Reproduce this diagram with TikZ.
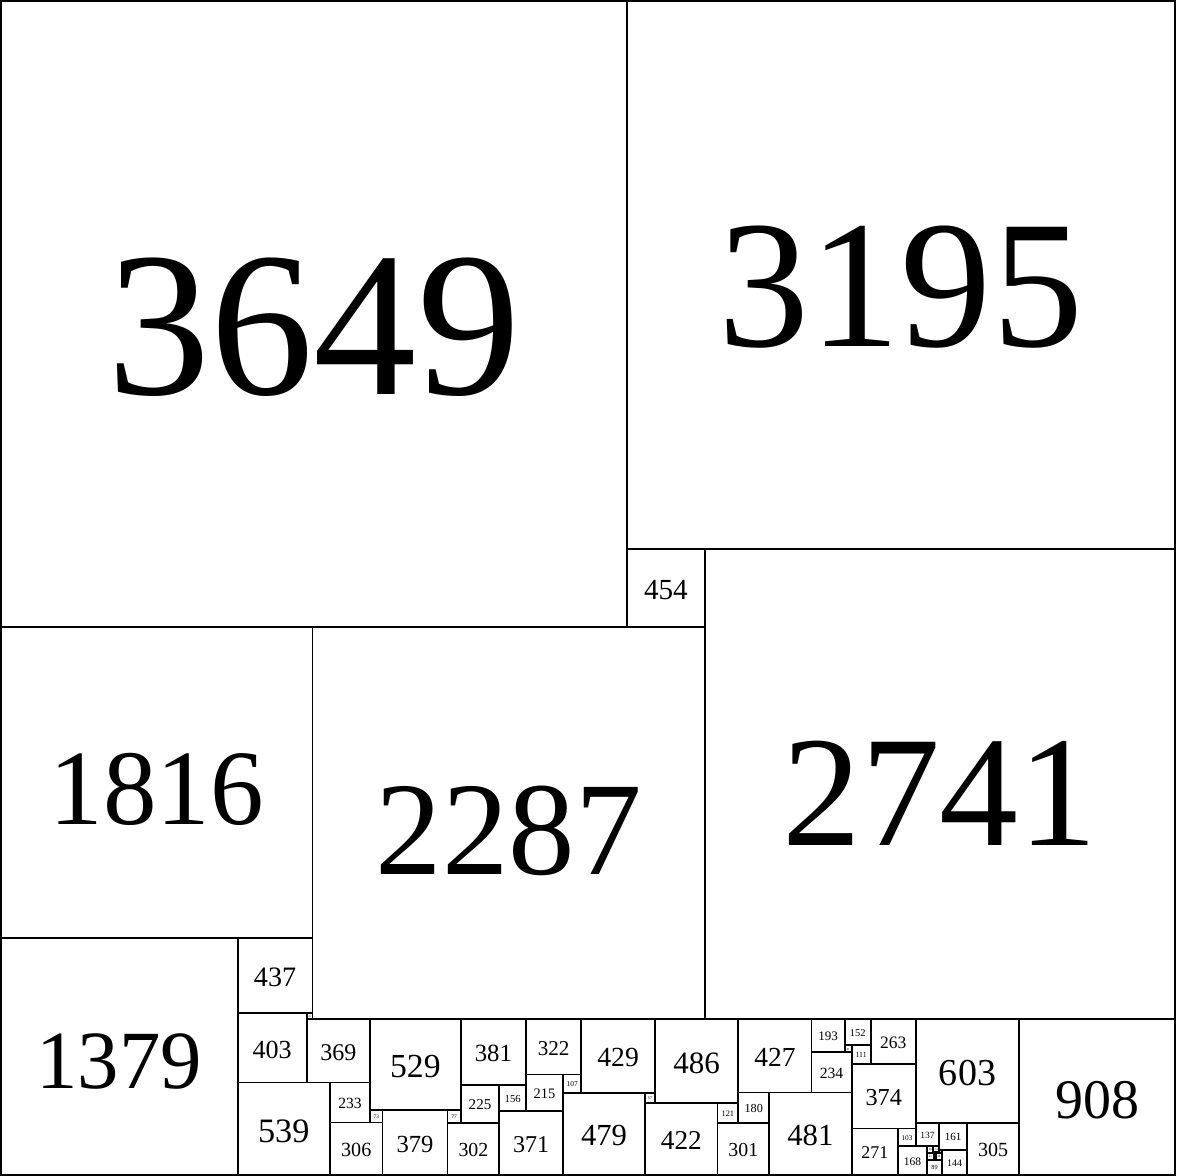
\documentclass[tikz,border=0pt]{standalone}
\usepackage{fontspec}
\setmainfont{Liberation Serif}
\tikzset{
  sqbox/.style={draw, line width=1.6pt, inner sep=0pt, outer sep=0pt, rectangle, text depth=0pt},
  sqline/.style={draw, line width=1.6pt}
}
\newcommand\SQ[5]{%
  \pgfmathsetmacro\sqcx{#2+#4/2}%
  \pgfmathsetmacro\sqcy{#3+#4/2}%
  \pgfmathsetmacro\sqfs{0.07734*exp(0.939*ln(#4))}%
  \pgfmathsetmacro\sqth{\sqfs*0.78}%
  \node[sqbox, minimum size=#4*0.05mm, text height=\sqth pt, font=\fontsize{\sqfs pt}{\sqfs pt}\selectfont] (#1) at (\sqcx,\sqcy) {#5};}
\begin{document}
\begin{tikzpicture}[x=0.05mm, y=-0.05mm]
\useasboundingbox (-6,-6) rectangle (6850,6850);
\SQ{q3649}{0}{0}{3649}{3649}
\SQ{q3195}{3649}{0}{3195}{3195}
\SQ{q454}{3649}{3195}{454}{454}
\SQ{q2741}{4103}{3195}{2741}{2741}
\SQ{q1816}{0}{3649}{1816}{1816}
\SQ{q2287}{1816}{3649}{2287}{2287}
\SQ{q1379}{0}{5465}{1379}{1379}
\SQ{q437}{1379}{5465}{437}{437}
\SQ{q34}{1782}{5902}{34}{34}
\SQ{q403}{1379}{5902}{403}{403}
\SQ{q369}{1782}{5936}{369}{369}
\SQ{q539}{1379}{6305}{539}{539}
\SQ{q529}{2151}{5936}{529}{529}
\SQ{q233}{1918}{6305}{233}{233}
\SQ{q306}{1918}{6538}{306}{306}
\SQ{q73}{2151}{6465}{73}{73}
\SQ{q379}{2224}{6465}{379}{379}
\SQ{q77}{2603}{6465}{77}{77}
\SQ{q302}{2603}{6542}{302}{302}
\SQ{q381}{2680}{5936}{381}{381}
\SQ{q225}{2680}{6317}{225}{225}
\SQ{q156}{2905}{6317}{156}{156}
\SQ{q322}{3061}{5936}{322}{322}
\SQ{q215}{3061}{6258}{215}{215}
\SQ{q371}{2905}{6473}{371}{371}
\SQ{q107}{3276}{6258}{107}{107}
\SQ{q429}{3383}{5936}{429}{429}
\SQ{q479}{3276}{6365}{479}{479}
\SQ{q57}{3755}{6365}{57}{57}
\SQ{q486}{3812}{5936}{486}{486}
\SQ{q422}{3755}{6422}{422}{422}
\SQ{q427}{4298}{5936}{427}{427}
\SQ{q121}{4177}{6422}{121}{121}
\SQ{q180}{4298}{6363}{180}{180}
\SQ{q301}{4177}{6543}{301}{301}
\SQ{q481}{4478}{6363}{481}{481}
\SQ{q193}{4725}{5936}{193}{193}
\SQ{q234}{4725}{6129}{234}{234}
\SQ{q152}{4918}{5936}{152}{152}
\SQ{q41}{4918}{6088}{41}{41}
\SQ{q111}{4959}{6088}{111}{111}
\SQ{q263}{5070}{5936}{263}{263}
\SQ{q603}{5333}{5936}{603}{603}
\SQ{q374}{4959}{6199}{374}{374}
\SQ{q271}{4959}{6573}{271}{271}
\SQ{q103}{5230}{6573}{103}{103}
\SQ{q137}{5333}{6539}{137}{137}
\SQ{q161}{5470}{6539}{161}{161}
\SQ{q305}{5631}{6539}{305}{305}
\SQ{q168}{5230}{6676}{168}{168}
\SQ{q144}{5487}{6700}{144}{144}
\SQ{q89}{5398}{6755}{89}{89}
\SQ{q908}{5936}{5936}{908}{908}
% tiny cluster
\SQ{c1}{5398}{6676}{37.75}{38}
\SQ{c2}{5435.75}{6676}{34.25}{34}
\SQ{c3}{5435.75}{6710.25}{3.5}{}
\SQ{c4}{5398}{6713.75}{41.25}{41}
\SQ{c5}{5470}{6700}{17}{17}
\SQ{c6}{5449}{6717}{38}{38}
\SQ{c7}{5439.25}{6710.25}{9.75}{}
\draw[sqline] (5449,6710.25) rectangle (5470,6717);
\draw[sqline] (5439.25,6720) rectangle (5449,6755);
\end{tikzpicture}
\end{document}
